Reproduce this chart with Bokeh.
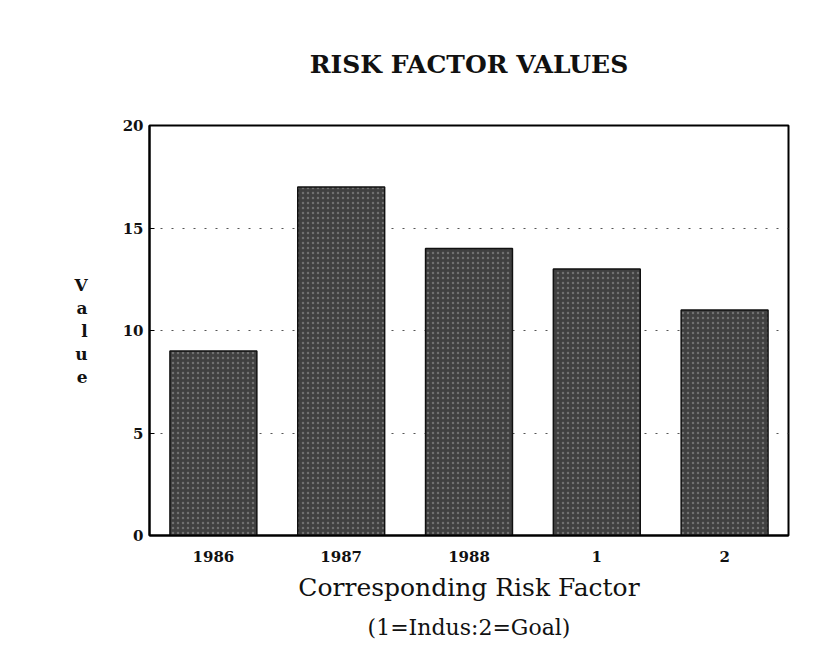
from bokeh.plotting import figure
from bokeh.models import FactorRange, ColumnDataSource, Title
from bokeh.embed import file_html
from bokeh.resources import INLINE

categories = ["1986", "1987", "1988", "1", "2"]
values = [9, 17, 14, 13, 11]
y_ticks = [0, 5, 10, 15, 20]

title_text = "RISK FACTOR VALUES"
x_label = "Corresponding Risk Factor"
x_sub = "(1=Indus:2=Goal)"
y_label = "V\na\nl\nu\ne"

SERIF = "DejaVu Serif"

p = figure(
    width=824, height=650,
    x_range=FactorRange(factors=categories, range_padding=0),
    y_range=(0, 20),
    output_backend="svg", toolbar_location=None,
    min_border_left=149, min_border_right=36,
    min_border_top=125, min_border_bottom=115,
)

src = ColumnDataSource(dict(cat=categories, val=values))
p.vbar(x="cat", top="val", width=0.68, source=src,
       fill_color="#404040", line_color="#111111", line_width=1.5,
       hatch_pattern="dot", hatch_color="white", hatch_alpha=0.25, hatch_scale=5)

p.outline_line_color = "black"
p.outline_line_width = 2
p.background_fill_color = "white"
p.border_fill_color = "white"

p.title.text = title_text
p.title.align = "center"
p.title.text_font = SERIF
p.title.text_font_style = "bold"
p.title.text_font_size = "25px"
p.title.text_color = "#111"
p.title.standoff = 94

p.xgrid.grid_line_color = None
p.ygrid.ticker = [5, 10, 15]
p.ygrid.grid_line_color = "#555555"
p.ygrid.grid_line_dash = "2 9"
p.ygrid.grid_line_width = 1

p.yaxis.ticker = y_ticks
p.yaxis.major_tick_in = 5
p.yaxis.major_tick_out = 0
p.yaxis.minor_tick_line_color = None
p.yaxis.axis_line_width = 2
p.yaxis.major_label_text_font = SERIF
p.yaxis.major_label_text_font_style = "bold"
p.yaxis.major_label_text_font_size = "15px"
p.yaxis.major_label_text_color = "#111"
p.yaxis.major_label_standoff = 6
p.yaxis.axis_label = y_label
p.yaxis.axis_label_orientation = "horizontal"
p.yaxis.axis_label_text_font = SERIF
p.yaxis.axis_label_text_font_style = "bold"
p.yaxis.axis_label_text_font_size = "17px"
p.yaxis.axis_label_text_line_height = 1.15
p.yaxis.axis_label_text_color = "#111"
p.yaxis.axis_label_standoff = 32

p.xaxis.major_tick_line_color = None
p.xaxis.minor_tick_line_color = None
p.xaxis.axis_line_width = 2
p.xaxis.major_label_text_font = SERIF
p.xaxis.major_label_text_font_style = "bold"
p.xaxis.major_label_text_font_size = "15px"
p.xaxis.major_label_text_color = "#111"
p.xaxis.major_label_standoff = 9
p.xaxis.axis_label = x_label
p.xaxis.axis_label_text_font = SERIF
p.xaxis.axis_label_text_font_style = "normal"
p.xaxis.axis_label_text_font_size = "25px"
p.xaxis.axis_label_text_color = "#111"
p.xaxis.axis_label_standoff = 8

sub = Title(text=x_sub, align="center", text_font=SERIF, text_font_style="normal",
            text_font_size="22px", text_color="#111", standoff=17)
p.add_layout(sub, "below")

open("out.html", "w").write(file_html(p, INLINE))
